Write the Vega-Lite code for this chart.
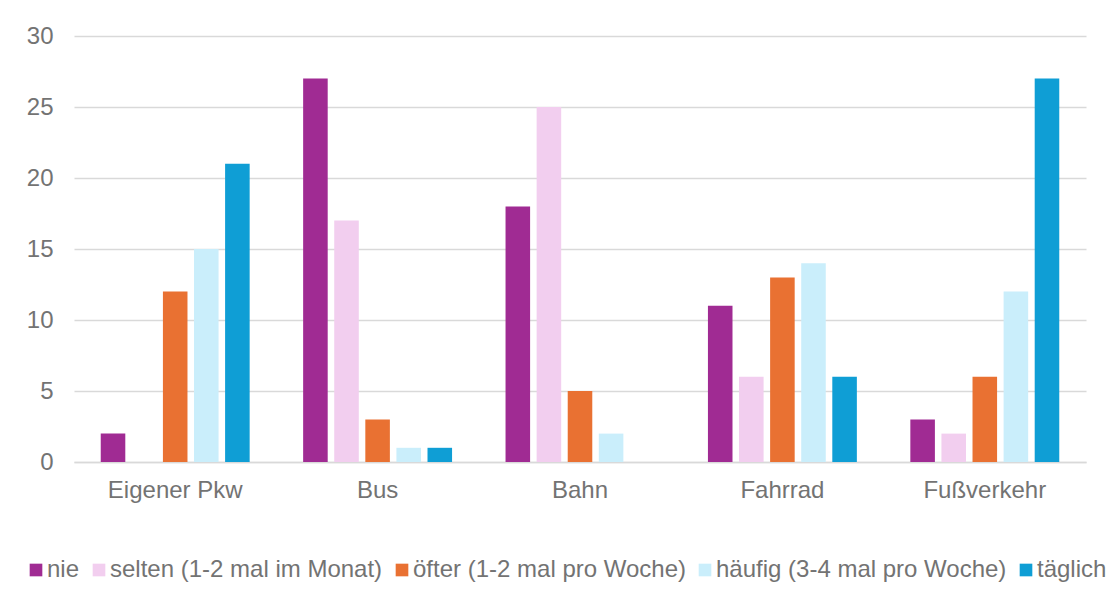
{
  "$schema": "https://vega.github.io/schema/vega-lite/v6.json",
  "autosize": {"type": "none"},
  "padding": {"left": 74, "top": 36, "right": 28, "bottom": 149},
  "width": 1012,
  "height": 426,
  "background": "white",
  "data": {
    "values": [
      {"mode": "Eigener Pkw", "freq": "nie", "count": 2},
      {"mode": "Eigener Pkw", "freq": "selten (1-2 mal im Monat)", "count": 0},
      {"mode": "Eigener Pkw", "freq": "öfter (1-2 mal pro Woche)", "count": 12},
      {"mode": "Eigener Pkw", "freq": "häufig (3-4 mal pro Woche)", "count": 15},
      {"mode": "Eigener Pkw", "freq": "täglich", "count": 21},
      {"mode": "Bus", "freq": "nie", "count": 27},
      {"mode": "Bus", "freq": "selten (1-2 mal im Monat)", "count": 17},
      {"mode": "Bus", "freq": "öfter (1-2 mal pro Woche)", "count": 3},
      {"mode": "Bus", "freq": "häufig (3-4 mal pro Woche)", "count": 1},
      {"mode": "Bus", "freq": "täglich", "count": 1},
      {"mode": "Bahn", "freq": "nie", "count": 18},
      {"mode": "Bahn", "freq": "selten (1-2 mal im Monat)", "count": 25},
      {"mode": "Bahn", "freq": "öfter (1-2 mal pro Woche)", "count": 5},
      {"mode": "Bahn", "freq": "häufig (3-4 mal pro Woche)", "count": 2},
      {"mode": "Bahn", "freq": "täglich", "count": 0},
      {"mode": "Fahrrad", "freq": "nie", "count": 11},
      {"mode": "Fahrrad", "freq": "selten (1-2 mal im Monat)", "count": 6},
      {"mode": "Fahrrad", "freq": "öfter (1-2 mal pro Woche)", "count": 13},
      {"mode": "Fahrrad", "freq": "häufig (3-4 mal pro Woche)", "count": 14},
      {"mode": "Fahrrad", "freq": "täglich", "count": 6},
      {"mode": "Fußverkehr", "freq": "nie", "count": 3},
      {"mode": "Fußverkehr", "freq": "selten (1-2 mal im Monat)", "count": 2},
      {"mode": "Fußverkehr", "freq": "öfter (1-2 mal pro Woche)", "count": 6},
      {"mode": "Fußverkehr", "freq": "häufig (3-4 mal pro Woche)", "count": 12},
      {"mode": "Fußverkehr", "freq": "täglich", "count": 27}
    ]
  },
  "mark": {"type": "bar"},
  "encoding": {
    "x": {
      "field": "mode",
      "type": "nominal",
      "sort": ["Eigener Pkw", "Bus", "Bahn", "Fahrrad", "Fußverkehr"],
      "scale": {"paddingInner": 0, "paddingOuter": 0},
      "axis": {
        "title": null,
        "labelAngle": 0,
        "ticks": false,
        "domainColor": "#D9D9D9",
        "domainWidth": 1.5,
        "labelPadding": 16,
        "labelFontSize": 24,
        "labelFont": "Liberation Sans",
        "labelColor": "#737373"
      }
    },
    "xOffset": {
      "field": "freq",
      "type": "nominal",
      "sort": ["nie", "selten (1-2 mal im Monat)", "öfter (1-2 mal pro Woche)", "häufig (3-4 mal pro Woche)", "täglich"],
      "scale": {"paddingInner": 0.21, "paddingOuter": 0.86}
    },
    "y": {
      "field": "count",
      "type": "quantitative",
      "scale": {"domain": [0, 30]},
      "axis": {
        "title": null,
        "values": [0, 5, 10, 15, 20, 25, 30],
        "ticks": false,
        "domain": false,
        "gridColor": "#D9D9D9",
        "gridWidth": 1.5,
        "labelPadding": 21,
        "labelFontSize": 24,
        "labelFont": "Liberation Sans",
        "labelColor": "#737373"
      }
    },
    "color": {
      "field": "freq",
      "type": "nominal",
      "sort": ["nie", "selten (1-2 mal im Monat)", "öfter (1-2 mal pro Woche)", "häufig (3-4 mal pro Woche)", "täglich"],
      "scale": {
        "domain": ["nie", "selten (1-2 mal im Monat)", "öfter (1-2 mal pro Woche)", "häufig (3-4 mal pro Woche)", "täglich"],
        "range": ["#A02B93", "#F2CEEF", "#E97132", "#CAEEFB", "#0F9ED5"]
      },
      "legend": {
        "title": null,
        "orient": "none",
        "legendX": -50,
        "legendY": 522,
        "padding": 0,
        "direction": "horizontal",
        "gridAlign": "none",
        "symbolType": "square",
        "symbolSize": 160,
        "symbolStrokeWidth": 0,
        "symbolOffset": 0,
        "labelFontSize": 24,
        "labelFont": "Liberation Sans",
        "labelColor": "#737373",
        "labelOffset": -1,
        "columnPadding": 7,
        "labelLimit": 600
      }
    }
  },
  "config": {"view": {"stroke": null}}
}
